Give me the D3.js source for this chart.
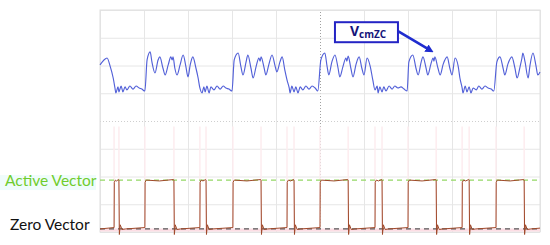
<!DOCTYPE html>
<html>
<head>
<meta charset="utf-8">
<script src="https://cdn.jsdelivr.net/npm/d3@7"></script>
<style>
  body { margin: 0; background: #fff; }
  svg { display: block; }
</style>
</head>
<body>
<svg width="550" height="245"></svg>
<script>
// scope trace, time in divisions (10 div), amplitude in divisions (+-4)
const cmT = [0,0.09,0.16,0.23,0.30,0.34,0.36,0.41,0.43,0.48,0.52,0.57,0.61,0.68,0.75,0.82,0.89,0.95,1.02,
  1.07,1.14,1.18,1.25,1.32,1.36,1.43,1.48,1.55,1.61,1.64,1.66,1.70,1.75,1.82,1.89,1.95,2.00,2.05,2.11,2.18,2.23,
  2.27,2.32,2.36,2.39,2.43,2.48,2.52,2.59,2.66,2.73,2.80,2.86,2.93,3.00,
  3.05,3.14,3.20,3.25,3.32,3.36,3.43,3.48,3.55,3.61,3.64,3.66,3.73,3.77,3.84,3.91,3.98,4.02,4.09,4.14,4.20,4.25,
  4.30,4.32,4.36,4.41,4.45,4.50,4.55,4.61,4.68,4.75,4.82,4.89,4.95,
  5.02,5.11,5.16,5.20,5.27,5.34,5.41,5.45,5.52,5.59,5.61,5.64,5.70,5.75,5.82,5.89,5.95,6.00,6.07,6.14,6.20,
  6.25,6.30,6.32,6.36,6.41,6.45,6.50,6.57,6.64,6.70,6.77,6.84,6.91,6.98,
  7.02,7.11,7.18,7.23,7.30,7.34,7.41,7.45,7.52,7.57,7.59,7.61,7.68,7.73,7.80,7.89,7.95,8.00,8.07,8.14,8.18,
  8.23,8.25,8.30,8.34,8.39,8.43,8.48,8.55,8.61,8.68,8.75,8.82,8.89,8.95,
  9.02,9.09,9.16,9.20,9.27,9.36,9.43,9.48,9.55,9.59,9.61,9.66,9.73,9.77,9.84,9.91,9.95,10];
const cmV = [2.02,2.20,2.27,1.98,1.55,1.19,1.01,1.23,1.05,1.26,1.05,1.23,1.12,1.26,1.15,1.26,1.19,1.15,1.08,
  2.20,2.49,2.13,1.73,2.20,2.31,1.91,1.66,2.02,2.31,2.20,2.31,1.91,1.66,2.02,2.38,1.98,1.59,2.02,2.31,1.91,1.55,
  1.19,1.01,1.23,1.05,1.26,1.01,1.23,1.12,1.26,1.15,1.26,1.19,1.15,1.08,
  2.20,2.45,1.98,1.66,2.13,2.38,1.91,1.55,1.98,2.27,2.16,2.31,1.91,1.66,2.05,2.38,1.98,1.77,2.13,2.31,1.84,1.48,
  1.19,1.01,1.26,1.05,1.23,1.01,1.23,1.12,1.26,1.15,1.26,1.19,1.08,
  2.20,2.45,1.98,1.66,2.13,2.38,1.91,1.59,1.95,2.27,2.16,2.34,1.91,1.59,2.05,2.31,1.91,1.66,2.27,1.98,1.48,
  1.12,1.26,1.01,1.23,1.05,1.23,1.08,1.26,1.15,1.26,1.19,1.23,1.15,1.08,
  2.13,2.38,1.91,1.66,2.13,2.31,1.91,1.66,2.05,2.27,2.16,2.31,1.91,1.66,2.05,2.31,1.91,1.66,2.27,1.98,1.55,
  1.19,1.01,1.26,1.05,1.23,1.01,1.19,1.12,1.26,1.15,1.26,1.19,1.15,1.08,
  2.13,2.31,1.91,1.66,2.05,2.31,1.91,1.55,1.98,2.27,2.45,2.13,1.55,1.98,2.45,1.98,1.66,1.77];

// switching state pulses (rise / fall instants)
const pulseOn  = [0.32, 1.02, 2.27, 3.02, 4.25, 5.00, 6.25, 7.00, 8.23, 9.00];
const pulseOff = [0.43, 1.68, 2.41, 3.66, 4.41, 5.64, 6.41, 7.64, 8.39, 9.64];
const activeLevel = -2.13;
const zeroLevel = -3.89;
const levelLabels = ["Active Vector", "Zero Vector"];
const traceLabel = { main: "V", sub: "cmZC" };

const svg = d3.select("svg");
const x = d3.scaleLinear().domain([0, 10]).range([100, 540]);
const y = d3.scaleLinear().domain([-4, 4]).range([232, 10]);

// faint background on the label
svg.append("rect")
  .attr("x", 0).attr("y", y(activeLevel) - 5)
  .attr("width", 96).attr("height", 15)
  .attr("fill", "#effcfb");

// grid
const grid = svg.append("g");
grid.append("g")
  .attr("transform", `translate(0,${y(-4)})`)
  .call(d3.axisBottom(x).ticks(10).tickSize(-(y(-4) - y(4))).tickFormat(""))
  .call((g) => g.select(".domain").remove())
  .call((g) => g.selectAll("line")
    .attr("stroke", (d) => (d === 5 ? "#a0a0a0" : "#e6e6e6"))
    .attr("stroke-dasharray", (d) => (d === 5 ? "1,2" : null)));
grid.append("g")
  .attr("transform", `translate(${x(0)},0)`)
  .call(d3.axisLeft(y).ticks(8).tickSize(-(x(10) - x(0))).tickFormat(""))
  .call((g) => g.select(".domain").remove())
  .call((g) => g.selectAll("line")
    .attr("stroke", (d) => (d === 0 ? "#cfcfcf" : "#e6e6e6"))
    .attr("stroke-dasharray", (d) => (d === 0 ? "1,2" : null)));
svg.append("rect")
  .attr("x", x(0)).attr("y", y(4))
  .attr("width", x(10) - x(0)).attr("height", y(-4) - y(4))
  .attr("fill", "none").attr("stroke", "#e0e0e0");

// pink edge traces
const edges = pulseOn.concat(pulseOff);
svg.append("g").selectAll("line")
  .data(edges)
  .join("line")
  .attr("x1", (d) => x(d)).attr("x2", (d) => x(d))
  .attr("y1", y(-0.2)).attr("y2", y(-4))
  .attr("stroke", "#fdecef").attr("stroke-width", 1.5);
svg.append("line")
  .attr("x1", x(0)).attr("x2", x(10))
  .attr("y1", y(zeroLevel) + 1).attr("y2", y(zeroLevel) + 1)
  .attr("stroke", "#fcdde4").attr("stroke-width", 3);

// reference levels
svg.append("line")
  .attr("x1", x(0)).attr("x2", x(10))
  .attr("y1", y(activeLevel)).attr("y2", y(activeLevel))
  .attr("stroke", "#94d866").attr("stroke-width", 1.3)
  .attr("stroke-dasharray", "5,4");
svg.append("line")
  .attr("x1", x(0)).attr("x2", x(10))
  .attr("y1", y(zeroLevel)).attr("y2", y(zeroLevel))
  .attr("stroke", "#555").attr("stroke-width", 1.3)
  .attr("stroke-dasharray", "5,4");

// pulse trace
const pts = [[0, zeroLevel]];
pulseOn.forEach((t0, i) => {
  const t1 = pulseOff[i];
  pts.push([t0, zeroLevel + 0.05], [t0 + 0.005, activeLevel - 0.08], [t0 + 0.03, activeLevel]);
  pts.push([(t0 + t1) / 2, activeLevel - 0.03], [t1 - 0.01, activeLevel + 0.02]);
  pts.push([t1, activeLevel], [t1 + 0.01, zeroLevel - 0.2], [t1 + 0.03, zeroLevel + 0.15], [t1 + 0.07, zeroLevel - 0.02]);
  pts.push([t1 + 0.15, zeroLevel]);
});
pts.push([10, zeroLevel + 0.03]);
svg.append("path")
  .datum(pts)
  .attr("fill", "none")
  .attr("stroke", "#a0492a")
  .attr("stroke-width", 1)
  .attr("d", d3.line().x((d) => x(d[0])).y((d) => y(d[1])));

// common mode voltage trace
svg.append("path")
  .datum(d3.zip(cmT, cmV))
  .attr("fill", "none")
  .attr("stroke", "#5260d8")
  .attr("stroke-width", 1.15)
  .attr("d", d3.line().curve(d3.curveMonotoneX).x((d) => x(d[0])).y((d) => y(d[1])));

// labels
svg.append("text")
  .attr("x", 5).attr("y", y(activeLevel) + 6)
  .attr("font-family", "Lato, sans-serif").attr("font-size", 15.5)
  .attr("fill", "#6fcc2e")
  .text(levelLabels[0]);
svg.append("text")
  .attr("x", 10).attr("y", y(zeroLevel) + 1)
  .attr("font-family", "Lato, sans-serif").attr("font-size", 15.5)
  .attr("fill", "#111")
  .text(levelLabels[1]);

// annotation box + arrow
const bx = x(5.34), by = y(3.56);
svg.append("rect")
  .attr("x", bx).attr("y", by)
  .attr("width", 63).attr("height", 20)
  .attr("fill", "#fff").attr("stroke", "#2424c4").attr("stroke-width", 2);
const lab = svg.append("text")
  .attr("x", bx + 15).attr("y", by + 14)
  .attr("font-family", "'Open Sans', sans-serif").attr("font-weight", "bold")
  .attr("fill", "#14147a");
lab.append("tspan").attr("font-size", 14).text(traceLabel.main);
lab.append("tspan").attr("font-size", 10).attr("dy", 2).text(traceLabel.sub);

svg.append("defs").append("marker")
  .attr("id", "ah").attr("viewBox", "0 0 10 10")
  .attr("refX", 5).attr("refY", 5)
  .attr("markerWidth", 3.2).attr("markerHeight", 3.2)
  .attr("orient", "auto")
  .append("path").attr("d", "M0,0L10,5L0,10z").attr("fill", "#1f2ccf");
svg.append("line")
  .attr("x1", bx + 63).attr("y1", by + 9)
  .attr("x2", x(7.5)).attr("y2", y(2.55))
  .attr("stroke", "#1f2ccf").attr("stroke-width", 2.6)
  .attr("marker-end", "url(#ah)");
</script>
</body>
</html>
